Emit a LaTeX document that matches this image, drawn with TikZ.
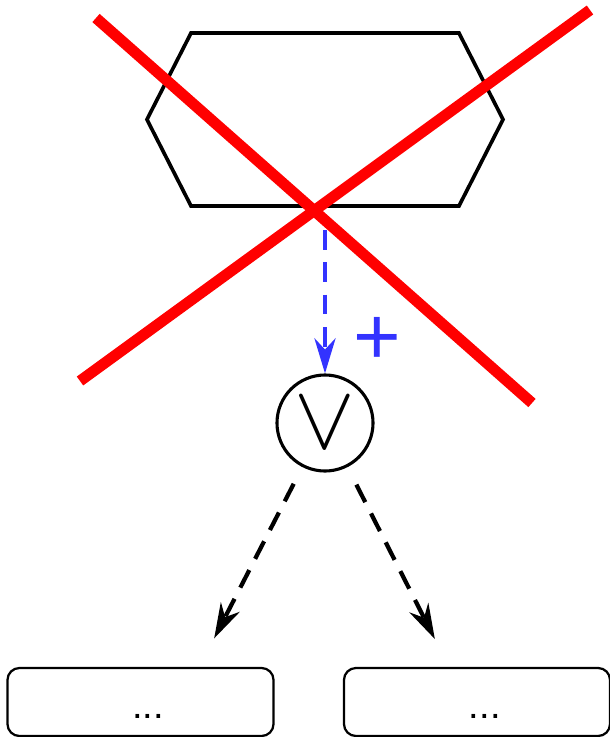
\documentclass[tikz,border=0pt]{standalone}
\usepackage{fontspec}
\setmainfont{Liberation Sans}
\usepackage{tikz}
\usetikzlibrary{positioning, arrows.meta, shapes.symbols, calc}

\definecolor{plusblue}{RGB}{51,51,255}

\begin{document}
\begin{tikzpicture}[
    x=0.025cm, y=-0.025cm,
    hexbox/.style={draw, signal, signal to=west and east, signal pointer angle=126, minimum width=8.9cm, minimum height=4.325cm, line width=2.6pt, inner sep=0pt, outer sep=0pt},
    cross/.style={red, line width=7.8pt},
    orop/.style={draw, circle, minimum size=2.4cm, line width=2.2pt, inner sep=0pt, font=\fontsize{24.88}{30}\selectfont},
    leaf/.style={draw, rectangle, rounded corners=0.3cm, minimum width=6.65cm, minimum height=1.7cm, line width=1.6pt, text height=24pt, font=\fontsize{27}{27}\selectfont},
    arrow/.style={-{Stealth[length=25pt, width=15pt, inset=8pt]}, dash pattern=on 14pt off 9pt, line width=3pt}
]
    \useasboundingbox (0,0) rectangle (610,737);

    \node[hexbox] (hex) at (325,119.5) {};
    \node[orop] (or) at (325,423) {\scalebox{2.6}{$\vee$}};
    \node[plusblue, font=\fontsize{58}{58}\selectfont] (plus) at (377,341) {+};

    \node[leaf] (lbox) at (140.5,702) {\hspace*{11pt}...};
    \node[leaf] (rbox) at (477,702) {\hspace*{11pt}...};

    \coordinate (laim) at ($(lbox.north)+(59,0)$);
    \coordinate (raim) at ($(rbox.north)+(-28,0)$);

    \draw[cross] (96,18) -- (532,403);
    \draw[cross] (80,381) -- (590,10);

    \draw[arrow, plusblue, shorten <=0.6cm] (hex) -- (or);
    \draw[arrow, shorten <=0.47cm, shorten >=0.8cm] (or) -- (laim);
    \draw[arrow, shorten <=0.49cm, shorten >=0.78cm] (or) -- (raim);

\end{tikzpicture}
\end{document}
